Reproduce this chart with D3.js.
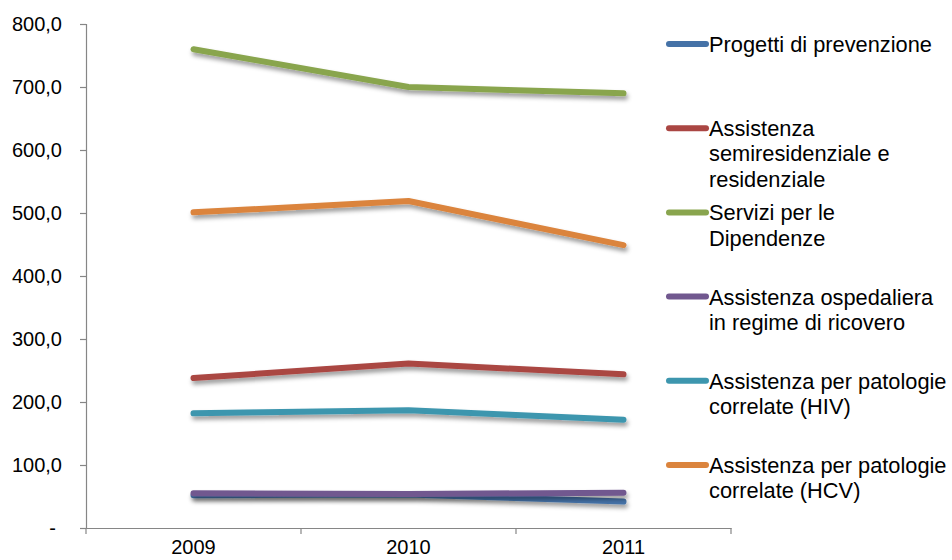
<!DOCTYPE html>
<html>
<head>
<meta charset="utf-8">
<script src="https://cdn.jsdelivr.net/npm/d3@7"></script>
<style>
  html, body { margin: 0; padding: 0; background: #ffffff; }
  svg { display: block; font-family: "Liberation Sans", Arial, sans-serif; }
</style>
</head>
<body>
<svg id="chart" width="952" height="560"></svg>
<script>
// Anni sull'asse delle categorie
const years = ["2009", "2010", "2011"];

// Serie (valori per anno)
const progettiPrevenzione = [52, 53, 42];
const assistenzaSemiresidenziale = [238, 261, 244];
const serviziDipendenze = [760, 700, 690];
const assistenzaOspedaliera = [55, 54, 56];
const patologieHIV = [182, 187, 172];
const patologieHCV = [501, 519, 449];

// Etichette della legenda (a capo come nell'impaginazione originale)
const seriesLabels = [
  ["Progetti di prevenzione"],
  ["Assistenza", "semiresidenziale e", "residenziale"],
  ["Servizi per le", "Dipendenze"],
  ["Assistenza ospedaliera", "in regime di ricovero"],
  ["Assistenza per patologie", "correlate (HIV)"],
  ["Assistenza per patologie", "correlate (HCV)"]
];
const seriesColors = ["#4572A7", "#AA4643", "#89A54E", "#71588F", "#3D96AE", "#DB843D"];
const seriesValues = [
  progettiPrevenzione, assistenzaSemiresidenziale, serviziDipendenze,
  assistenzaOspedaliera, patologieHIV, patologieHCV
];

// Valori delle tacche dell'asse Y
const yTicks = [0, 100, 200, 300, 400, 500, 600, 700, 800];

const svg = d3.select("#chart");
const plot = { left: 86, right: 731, top: 24, bottom: 528 };

const x = d3.scaleBand().domain(years).range([plot.left, plot.right]);
const y = d3.scaleLinear().domain([0, 800]).range([plot.bottom, plot.top]);

// Ombra sotto le linee (regione del filtro in coordinate assolute)
const defs = svg.append("defs");
const f = defs.append("filter").attr("id", "shadow")
  .attr("filterUnits", "userSpaceOnUse")
  .attr("x", 0).attr("y", 0).attr("width", 952).attr("height", 560);
f.append("feDropShadow").attr("dx", 1.5).attr("dy", 3.5).attr("stdDeviation", 2)
  .attr("flood-color", "#000").attr("flood-opacity", 0.4);

const fmt = v => v === 0 ? "-" : d3.format(".1f")(v).replace(".", ",");
const font = "'Liberation Sans', Arial, sans-serif";

// Asse Y
const yAxis = svg.append("g")
  .attr("transform", `translate(${plot.left},0)`)
  .call(d3.axisLeft(y).tickValues(yTicks).tickFormat(fmt).tickSize(6).tickPadding(18));
yAxis.select(".domain").attr("stroke", "#868686").attr("stroke-width", 1.2);
yAxis.selectAll(".tick line").attr("stroke", "#868686").attr("stroke-width", 1.2);
yAxis.selectAll(".tick text")
  .attr("fill", "#000").style("font-size", "20px").style("font-family", font);
yAxis.selectAll(".tick").filter(d => d === 0).select("text").attr("dx", -6);

// Asse X
const xAxis = svg.append("g")
  .attr("transform", `translate(0,${plot.bottom})`)
  .call(d3.axisBottom(x).tickSize(0).tickPadding(12));
xAxis.select(".domain").attr("stroke", "#868686").attr("stroke-width", 1.2);
xAxis.selectAll(".tick text")
  .attr("fill", "#000").style("font-size", "20px").style("font-family", font);
// Tacche sui confini delle categorie
const bounds = years.map(d => x(d)).concat([x(years[years.length - 1]) + x.bandwidth()]);
svg.append("g").selectAll("line").data(bounds).join("line")
  .attr("x1", d => d).attr("x2", d => d)
  .attr("y1", plot.bottom).attr("y2", plot.bottom + 6)
  .attr("stroke", "#868686").attr("stroke-width", 1.2);

// Linee
const line = d3.line()
  .x((d, i) => x(years[i]) + x.bandwidth() / 2)
  .y(d => y(d));

svg.append("g").selectAll("path")
  .data(seriesValues)
  .join("path")
  .attr("d", d => line(d))
  .attr("fill", "none")
  .attr("stroke", (d, i) => seriesColors[i])
  .attr("stroke-width", 6)
  .attr("stroke-linecap", "round")
  .attr("stroke-linejoin", "round")
  .attr("filter", "url(#shadow)");

// Legenda
const legend = svg.append("g");
const legendTop = 44, legendStep = 84.2, lineH = 25.3;
seriesLabels.forEach((lines, i) => {
  const g = legend.append("g").attr("transform", `translate(0,${legendTop + i * legendStep})`);
  g.append("line")
    .attr("x1", 669).attr("x2", 706).attr("y1", 0).attr("y2", 0)
    .attr("stroke", seriesColors[i]).attr("stroke-width", 6)
    .attr("stroke-linecap", "round");
  const t = g.append("text")
    .attr("x", 709).attr("y", 0)
    .attr("dominant-baseline", "central")
    .style("font-size", "21.8px").style("font-family", font).attr("fill", "#000");
  lines.forEach((s, j) => {
    t.append("tspan").attr("x", 709).attr("y", j * lineH).text(s);
  });
});
</script>
</body>
</html>
